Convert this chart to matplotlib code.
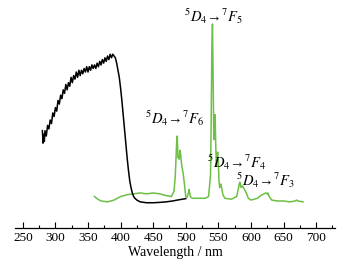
import numpy as np
import matplotlib
matplotlib.use('Agg')
import matplotlib.pyplot as plt
from matplotlib.ticker import MultipleLocator

# excitation spectrum (black)
exc_wl = [280, 281, 282, 283, 284, 286, 288, 290, 292, 294, 296, 298, 300, 302, 304, 306, 308, 310,
          312, 314, 316, 318, 320, 322, 324, 326, 328, 330, 332, 334, 336, 338, 340, 342, 344, 346,
          348, 350, 352, 354, 356, 358, 360, 362, 364, 366, 368, 370, 372, 374, 376, 378, 380, 382,
          384, 386, 388, 390, 392, 394, 396, 398, 400, 402, 404, 406, 408, 410, 412, 414, 416, 418,
          420, 422, 425, 430, 440, 450, 460, 470, 480, 490, 500]
exc_int = [0.40, 0.33, 0.38, 0.34, 0.40, 0.37, 0.43, 0.41, 0.46, 0.44, 0.50, 0.48, 0.53, 0.51, 0.57,
           0.55, 0.60, 0.58, 0.63, 0.61, 0.66, 0.63, 0.67, 0.65, 0.70, 0.67, 0.71, 0.69, 0.73, 0.70,
           0.74, 0.71, 0.74, 0.72, 0.75, 0.73, 0.76, 0.73, 0.76, 0.74, 0.77, 0.75, 0.77, 0.75, 0.78,
           0.76, 0.79, 0.77, 0.80, 0.78, 0.81, 0.79, 0.82, 0.80, 0.83, 0.81, 0.83, 0.82, 0.81, 0.78,
           0.74, 0.70, 0.64, 0.57, 0.49, 0.41, 0.33, 0.25, 0.18, 0.12, 0.08, 0.05, 0.03, 0.02, 0.01,
           0.0, -0.005, -0.005, -0.003, 0.0, 0.005, 0.012, 0.018]

# emission spectrum (green)
em_wl = [360, 365, 370, 380, 390, 400, 410, 420, 430, 440, 450, 460, 470, 478, 482, 484, 486, 487,
         488, 490, 491, 492, 494, 496, 498, 500, 502, 504, 505, 507, 510, 520, 530, 535, 538, 539,
         540, 541, 542, 543, 544, 545, 546, 547, 548, 549, 550, 551, 552, 554, 555, 557, 560, 570,
         578, 580, 582, 583, 585, 587, 590, 593, 596, 600, 610, 615, 620, 623, 625, 626, 628, 632,
         640, 650, 660, 668, 670, 672, 680]
em_int = [0.03, 0.015, 0.005, 0.0, 0.01, 0.03, 0.04, 0.045, 0.05, 0.045, 0.05, 0.045, 0.035, 0.03,
          0.06, 0.15, 0.33, 0.37, 0.25, 0.24, 0.29, 0.27, 0.20, 0.16, 0.10, 0.03, 0.025, 0.05, 0.07,
          0.03, 0.02, 0.02, 0.02, 0.03, 0.15, 0.45, 0.85, 1.0, 0.70, 0.35, 0.42, 0.49, 0.32, 0.20,
          0.26, 0.28, 0.22, 0.12, 0.08, 0.10, 0.08, 0.04, 0.02, 0.015, 0.03, 0.06, 0.10, 0.11, 0.08,
          0.09, 0.07, 0.05, 0.02, 0.01, 0.02, 0.035, 0.045, 0.05, 0.045, 0.05, 0.03, 0.01, 0.005,
          0.005, 0.0, 0.005, 0.01, 0.005, 0.0]

labels = [r'$^5D_4$→$^7F_5$', r'$^5D_4$→$^7F_6$', r'$^5D_4$→$^7F_4$', r'$^5D_4$→$^7F_3$']
label_pos = [(542, 1.045), (482, 0.47), (578, 0.22), (622, 0.12)]

plt.rcParams['font.family'] = 'Liberation Serif'
plt.rcParams['mathtext.fontset'] = 'stix'

fig = plt.figure(figsize=(3.52, 2.66), dpi=100)
ax = fig.add_axes([15 / 352, 1 - 228 / 266, 320 / 352, 220 / 266])

ax.plot(em_wl, em_int, color='#6dbf45', lw=1.1)
ax.plot(exc_wl, exc_int, color='black', lw=1.1)

for lab, (xp, yp) in zip(labels, label_pos):
    ax.text(xp, yp, lab, ha='center', va='center', fontsize=10.5)

ax.set_xlim(238, 729)
ax.set_ylim(-0.147, 1.09)
for s in ['top', 'left', 'right']:
    ax.spines[s].set_visible(False)
ax.spines['bottom'].set_linewidth(0.9)
ax.set_yticks([])
ax.xaxis.set_major_locator(MultipleLocator(50))
ax.xaxis.set_minor_locator(MultipleLocator(25))
ax.tick_params(axis='x', which='major', direction='in', length=4, width=0.8, labelsize=9.5, pad=3)
ax.tick_params(axis='x', which='minor', direction='in', length=2, width=0.8)
ax.set_xlabel('Wavelength / nm', fontsize=10, labelpad=1)

fig.savefig('out.png', dpi=100)
